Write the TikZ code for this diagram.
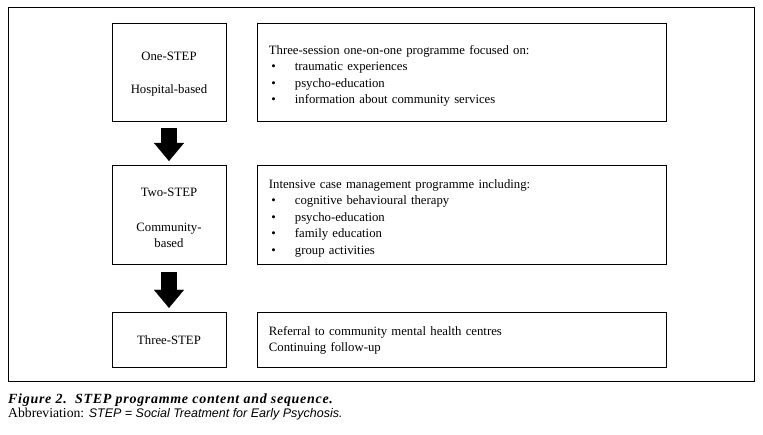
\documentclass[tikz,border=0pt]{standalone}
\usepackage{fontspec}
\setmainfont{Liberation Serif}
\setsansfont{Liberation Sans}
\usepackage{tikz}
\usetikzlibrary{arrows.meta, positioning}

\newcommand{\itm}{\hspace*{2.5pt}\makebox[23.5pt][l]{\textbullet}}

\begin{document}
\begin{tikzpicture}[x=1pt, y=-1pt, node distance=31pt,
  stage/.style={rectangle, draw, line width=0.9pt, minimum width=114pt, inner sep=0pt, align=center, font=\fontsize{12.75}{16}\selectfont},
  content/.style={rectangle, draw, line width=0.9pt, text width=387pt, inner xsep=11pt, inner ysep=0pt, align=left, font=\fontsize{12.75}{16.5}\selectfont},
  steparrow/.style={line width=16pt, -{Triangle[length=18pt, width=30pt, line width=0.1pt]}, shorten <=6.5pt, shorten >=4.5pt}]

\useasboundingbox (0,0) rectangle (763,434);
\draw[line width=0.9pt] (8,7) rectangle (754,381);

% stages
\node[stage, minimum height=98pt] (one) at (169,72) {\rule{0pt}{13pt}One-STEP\\[17pt]Hospital-based};
\node[stage, minimum height=99pt, below=44pt of one] (two) {\rule{0pt}{14pt}Two-STEP\\[19pt]Community-\\based};
\node[stage, minimum height=55pt, below=47pt of two] (three) {Three-STEP};

% programme content
\node[content, minimum height=98pt, right=of one] (info1) {\rule{0pt}{17pt}Three-session one-on-one programme focused on:\\
  \itm traumatic experiences\\
  \itm psycho-education\\
  \itm information about community services};
\node[content, minimum height=99pt, right=of two] (info2) {\rule{0pt}{14.5pt}Intensive case management programme including:\\
  \itm cognitive behavioural therapy\\
  \itm psycho-education\\
  \itm family education\\
  \itm group activities};
\node[content, minimum height=55pt, right=of three] (info3) {Referral to community mental health centres\\
  Continuing follow-up};

\draw[steparrow] (one) -- (two);
\draw[steparrow] (two) -- (three);

% caption
\node[anchor=base west, inner sep=0pt, font=\bfseries\itshape\fontsize{14}{16}\selectfont\addfontfeature{LetterSpace=5}] (caption) at (8,403) {Figure 2.\ \ STEP programme content and sequence.};
\node[anchor=base west, inner sep=0pt, font=\fontsize{13.7}{15}\selectfont] (abbrev) at (8,417) {Abbreviation: {\sffamily\itshape\fontsize{12.5}{15}\selectfont STEP = Social Treatment for Early Psychosis.}};

\end{tikzpicture}
\end{document}
